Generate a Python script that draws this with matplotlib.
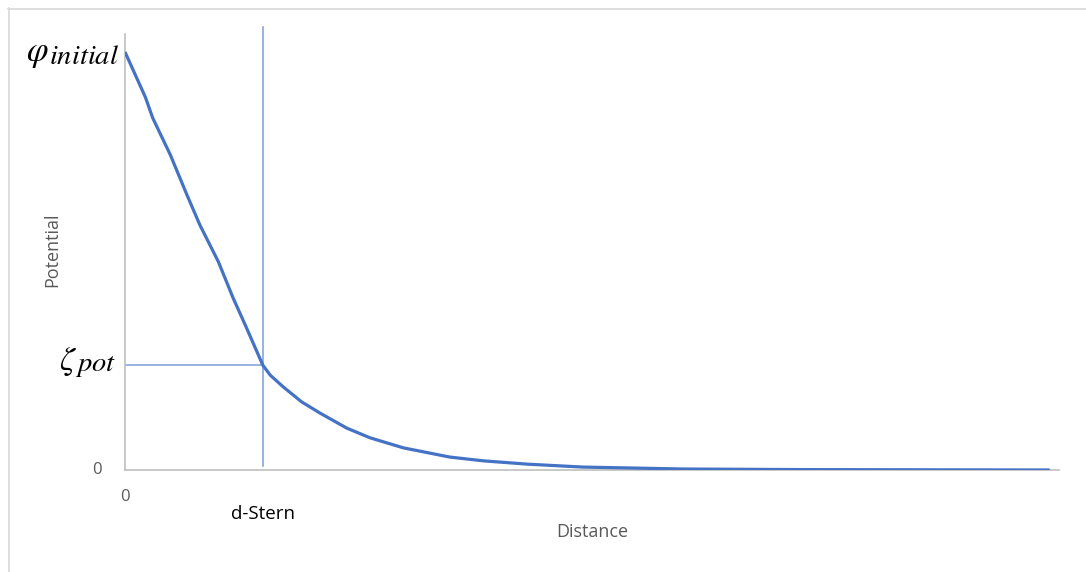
import matplotlib
matplotlib.use("Agg")
import matplotlib.pyplot as plt
from matplotlib.lines import Line2D

# Potential profile across the double layer (arbitrary units)
distance = [0, 2.2, 3.0, 4.9, 6.7, 8.1, 10.1, 11.7, 13.0, 14.9,
            15.7, 17.1, 19.1, 21.1, 24.0, 26.5, 30.1, 35.1, 38.7,
            43.5, 49.5, 60.3, 73.0, 86.0, 100.0]
potential = [100, 89.2, 84.2, 75.4, 65.8, 58.6, 49.8, 41.1, 34.7, 25.1,
             22.7, 19.9, 16.3, 13.6, 10.0, 7.7, 5.3, 3.1, 2.2,
             1.4, 0.7, 0.24, 0.1, 0.05, 0.0]

phi_initial = 100
zeta_pot = 25.1
d_stern = 14.9

plt.rcParams['mathtext.fontset'] = 'stix'
plt.rcParams['font.family'] = ['Open Sans', 'DejaVu Sans']

W, H = 1086, 572
fig = plt.figure(figsize=(W / 100, H / 100), dpi=100)
ax = fig.add_axes([125 / W, (H - 470) / H, 934 / W, 436 / H])

ax.plot(distance, potential, color='#4472C4', lw=2.3, solid_joinstyle='round',
        solid_capstyle='butt', zorder=3)

# Stern plane and zeta potential guides
guide = '#7A9CDA'
ax.plot([d_stern, d_stern], [1, 106], color=guide, lw=1.1, clip_on=False, zorder=2)
ax.plot([0, d_stern], [zeta_pot, zeta_pot], color=guide, lw=1.1, zorder=2)

ax.set_xlim(0, 101)
ax.set_ylim(0, 104.3)

for s in ['top', 'right']:
    ax.spines[s].set_visible(False)
for s in ['left', 'bottom']:
    ax.spines[s].set_color('#BFBFBF')
    ax.spines[s].set_linewidth(1.2)

ax.set_xticks([])
ax.set_yticks([])

gray = '#595959'
ax.text(-0.025, 0, '0', transform=ax.get_yaxis_transform(), ha='right', va='center',
        fontsize=12, color=gray)
ax.text(0, -0.062, '0', transform=ax.get_xaxis_transform(), ha='center', va='center',
        fontsize=12, color=gray)
ax.text(d_stern, -0.10, 'd-Stern', transform=ax.get_xaxis_transform(), ha='center',
        va='center', fontsize=13.5, color='black')

# Symbol labels: large Greek letter with a full-size italic subscript
def px(x, y):
    return x / W, 1 - y / H

fig.text(*px(37, 53), r'$\varphi$', ha='center', va='center', fontsize=25, color='black')
fig.text(*px(49, 64), r'$\mathit{initial}$', ha='left', va='baseline', fontsize=20.5,
         color='black')
fig.text(*px(68, 361), r'$\zeta$', ha='center', va='center', fontsize=24, color='black')
fig.text(*px(75, 371), r'$\mathit{pot}$', ha='left', va='baseline', fontsize=20.5,
         color='black')

fig.text(592 / W, 1 - 532 / H, 'Distance', ha='center', va='center', fontsize=13, color=gray)
fig.text(52 / W, 1 - 250 / H, 'Potential', ha='center', va='center', rotation=90,
         fontsize=13, color=gray)

# Frame edges along the top and left of the canvas
fig.add_artist(Line2D([8 / W, 1], [1 - 8.5 / H, 1 - 8.5 / H], color='#D9D9D9', lw=1.2))
fig.add_artist(Line2D([8.5 / W, 8.5 / W], [0, 1 - 8 / H], color='#D9D9D9', lw=1.2))

fig.savefig('out.png', dpi=100, facecolor='white')
